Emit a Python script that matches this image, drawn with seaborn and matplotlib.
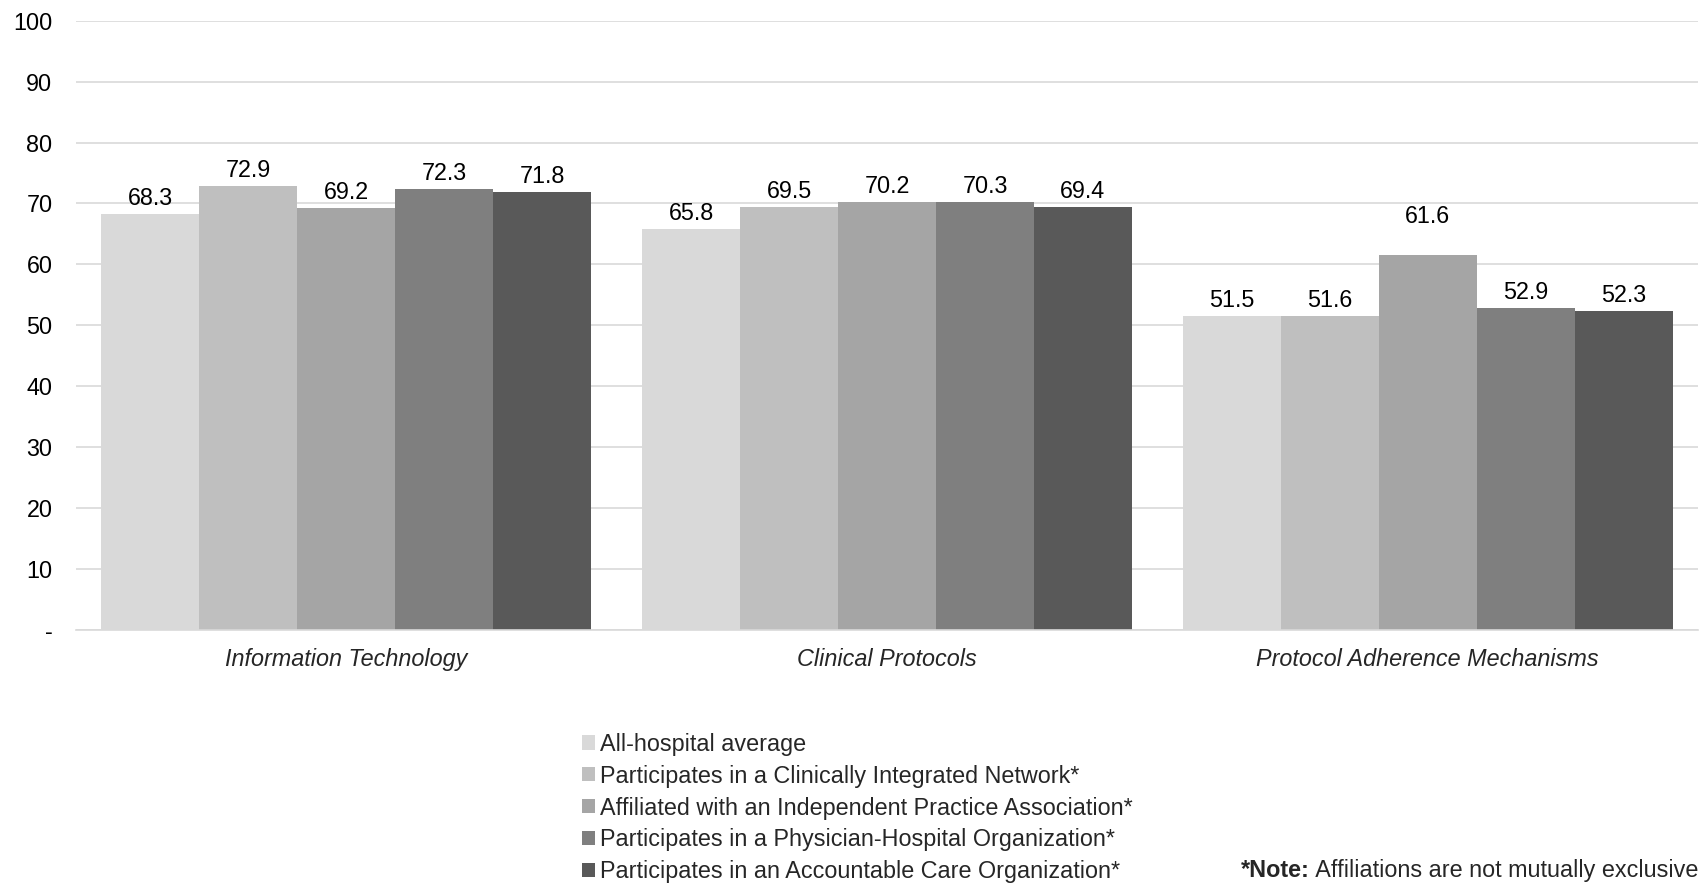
import matplotlib
matplotlib.use("Agg")
import matplotlib.pyplot as plt
from matplotlib.patches import Patch
import seaborn as sns
import pandas as pd

# Scores by area and hospital affiliation type
categories = ["Information Technology", "Clinical Protocols", "Protocol Adherence Mechanisms"]
groups = [
    "All-hospital average",
    "Participates in a Clinically Integrated Network*",
    "Affiliated with an Independent Practice Association*",
    "Participates in a Physician-Hospital Organization*",
    "Participates in an Accountable Care Organization*",
]
all_hospital = [68.3, 65.8, 51.5]
cin = [72.9, 69.5, 51.6]
ipa = [69.2, 70.2, 61.6]
pho = [72.3, 70.3, 52.9]
aco = [71.8, 69.4, 52.3]
series = [all_hospital, cin, ipa, pho, aco]
yticks = [0, 10, 20, 30, 40, 50, 60, 70, 80, 90, 100]
ytick_labels = ["-", "10", "20", "30", "40", "50", "60", "70", "80", "90", "100"]

colors = ["#d9d9d9", "#bfbfbf", "#a5a5a5", "#7f7f7f", "#595959"]
FS = 16.8

rows = []
for g, vals in zip(groups, series):
    for c, v in zip(categories, vals):
        rows.append({"Category": c, "Group": g, "Score": v})
df = pd.DataFrame(rows)

sns.set_style("white")
plt.rcParams["font.family"] = ["Liberation Sans", "DejaVu Sans"]

fig = plt.figure(figsize=(17.01, 8.85), dpi=100)
ax = fig.add_axes([0.0447, 0.288, 0.9535, 0.6887])

sns.barplot(data=df, x="Category", y="Score", hue="Group", order=categories,
            hue_order=groups, palette=colors, width=0.906, gap=0,
            saturation=1, edgecolor="none", linewidth=0, ax=ax, legend=False)

ax.set_ylim(0, 100)
ax.set_xlim(-0.5, 2.5)
ax.set_yticks(yticks)
ax.set_yticklabels(ytick_labels, fontsize=FS, color="#000000")
ax.tick_params(axis="y", length=0, pad=17)
ax.tick_params(axis="x", length=0, pad=13)
for lbl in ax.get_xticklabels():
    lbl.set_fontstyle("italic")
    lbl.set_fontsize(FS)
ax.set_xlabel("")
ax.set_ylabel("")
ax.yaxis.grid(True, color="#d9d9d9", linewidth=1.2)
ax.set_axisbelow(True)
for side in ["top", "right", "left"]:
    ax.spines[side].set_visible(False)
ax.spines["bottom"].set_color("#d9d9d9")
ax.spines["bottom"].set_linewidth(1.2)

# value labels above each bar; the IPA label on the last category sits higher
label_lift = {(2, 2): 23}
for gi, cont in enumerate(ax.containers):
    for ci, bar in enumerate(cont):
        h = bar.get_height()
        ax.annotate(f"{h:.1f}", (bar.get_x() + bar.get_width() / 2, h),
                    xytext=(0, 4 + label_lift.get((gi, ci), 0)),
                    textcoords="offset pixels", ha="center", va="bottom",
                    fontsize=FS, color="#000000")

handles = [Patch(facecolor=c, edgecolor="none") for c in colors]
fig.legend(handles, groups, loc="upper left", bbox_to_anchor=(0.342, 0.172),
           frameon=False, fontsize=FS, handlelength=0.55, handleheight=0.55,
           handletextpad=0.22, labelspacing=0.38, borderaxespad=0, borderpad=0)

note = fig.text(0.7295, 0.009, "*Note:", fontsize=FS, fontweight="bold",
                ha="left", va="baseline")
ax.annotate(" Affiliations are not mutually exclusive", xy=(1, 0), xycoords=note,
            fontsize=FS, ha="left", va="bottom", annotation_clip=False)

fig.savefig("out.png", dpi=100)
